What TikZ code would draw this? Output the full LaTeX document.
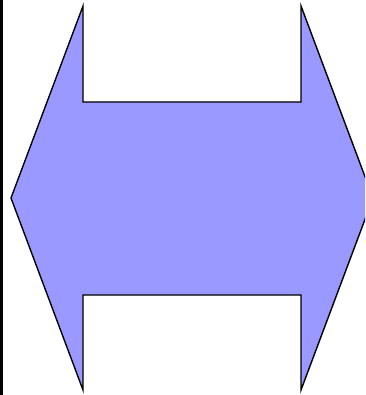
\documentclass[tikz,border=0pt]{standalone}
\begin{document}
\begin{tikzpicture}[
  x=1pt, y=-1pt,
  dblarrow/.style={draw=black, line width=1.4pt, line join=miter, fill=blue!40!white},
  edgebar/.style={draw=black, line width=3pt}
]
\useasboundingbox (0,0) rectangle (365,395);
% Seta dupla
\begin{scope}
\clip (0,0) rectangle (365,395);
\draw[dblarrow] (11,198) -- (83,6) -- (83,102) -- (301,102) -- (301,6)
  -- (373,198) -- (301,390) -- (301,295) -- (83,295) -- (83,390) -- cycle;
\end{scope}
% Borda esquerda
\draw[edgebar] (1.5,0) -- (1.5,395);
\end{tikzpicture}
\end{document}
